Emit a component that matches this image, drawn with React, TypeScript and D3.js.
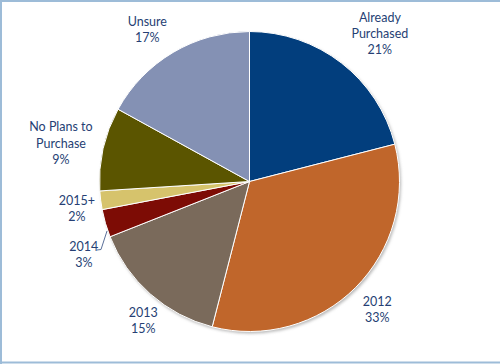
import React from "react";
import * as d3 from "d3";

const categories = ["Already Purchased", "2012", "2013", "2014", "2015+", "No Plans to Purchase", "Unsure"];
const values = [21, 33, 15, 3, 2, 9, 17];
const labelLines = [["Already", "Purchased", "21%"], ["2012", "33%"], ["2013", "15%"], ["2014", "3%"], ["2015+", "2%"], ["No Plans to", "Purchase", "9%"], ["Unsure", "17%"]];
const colors = ["#023e7d", "#c0662b", "#7a6a5b", "#7d0c05", "#d6c36c", "#5b5500", "#8491b4"];

// label layout: nudges (dx, dy) from the label-arc centroid
const labelNudge: [number, number][] = [
  [17, -2], [-3, -2.5], [16, 0.5], [12, 21.5], [11, 4], [-8, 2], [-8, 7.5],
];

const W = 500, H = 364;
const cx = 249.5, cy = 181.5, R = 150, LR = 185;

export default function App() {
  const pie = d3.pie<number>().sort(null).value((d) => d).startAngle(0).endAngle(2 * Math.PI);
  const arcs = pie(values);
  const arc = d3.arc<d3.PieArcDatum<number>>().innerRadius(0).outerRadius(R);
  return (
    <svg width={W} height={H} style={{ position: "absolute", left: 0, top: 0, background: "#fff" }}>
      <defs>
        <filter id="sh" x="-10%" y="-10%" width="120%" height="120%">
          <feGaussianBlur stdDeviation="1.5" />
        </filter>
      </defs>
      <line x1={0} y1={1} x2={W} y2={1} stroke="#9dbcd8" strokeWidth={2} />
      <line x1={1} y1={0} x2={1} y2={H} stroke="#9dbcd8" strokeWidth={2} />
      <line x1={0} y1={362.5} x2={W} y2={362.5} stroke="#9dbcd8" strokeWidth={2} />
      <g transform={`translate(${cx},${cy})`}>
        <circle cx={1.5} cy={2} r={R} fill="#b8b8b8" filter="url(#sh)" />
        {arcs.map((a, i) => (
          <path key={categories[i]} d={arc(a) || ""} fill={colors[i]} stroke="#ffffff" strokeWidth={1} />
        ))}
        {arcs.map((a, i) => {
          const mid = (a.startAngle + a.endAngle) / 2;
          const x = Math.sin(mid) * LR + labelNudge[i][0];
          const y = -Math.cos(mid) * LR + labelNudge[i][1];
          const lines = labelLines[i];
          const lh = 16.3;
          const y0 = y - ((lines.length - 1) * lh) / 2 + 4.5;
          return (
            <text key={"l" + i} x={x} y={y0} textAnchor="middle" fontFamily="Lato, 'Open Sans', sans-serif" fontSize={12.5} fill="#263f74">
              {lines.map((t, j) => (
                <tspan key={j} x={x} y={y0 + j * lh}>{t}</tspan>
              ))}
            </text>
          );
        })}
      </g>
      <polyline points={`97,250 101,249.5 107,231`} fill="none" stroke="#5a6f99" strokeWidth={1} />
    </svg>
  );
}
